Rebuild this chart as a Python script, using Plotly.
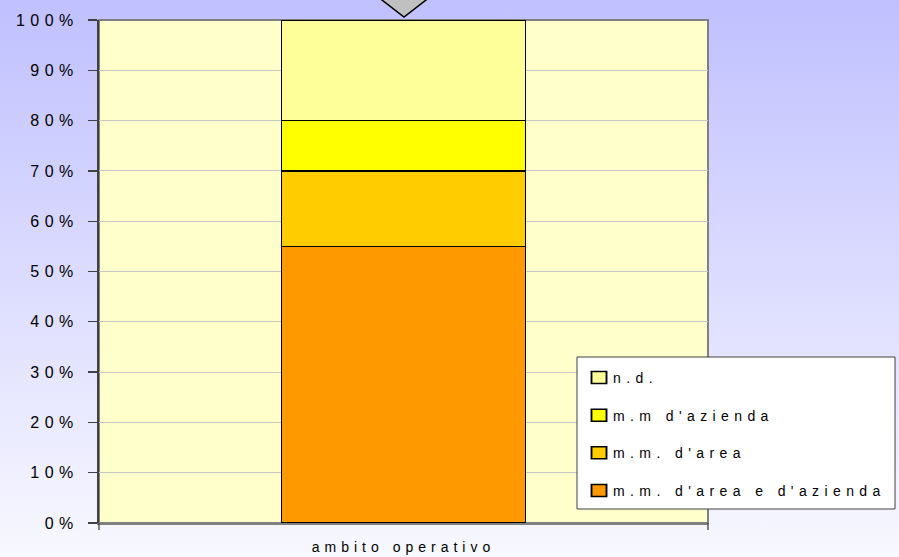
import base64
import plotly.graph_objects as go

# ---- data ----
categories = ["ambito operativo"]
series_names = ["m.m. d'area e d'azienda", "m.m. d'area", "m.m d'azienda", "n.d."]
val_area_azienda = [0.55]
val_area = [0.15]
val_azienda = [0.10]
val_nd = [0.20]
series_colors = ["#FF9900", "#FFCC00", "#FFFF00", "#FFFF99"]
y_tick_values = [0, 0.1, 0.2, 0.3, 0.4, 0.5, 0.6, 0.7, 0.8, 0.9, 1.0]

series_values = [val_area_azienda, val_area, val_azienda, val_nd]

W, H = 899, 557
L, R, T, B = 99, 191, 20, 34
PW, PH = W - L - R, H - T - B


def px_x(px):
    return (px - L) / PW


def px_y(py):
    return (H - B - py) / PH


FONT = "Liberation Sans, Arial, sans-serif"

fig = go.Figure()
n = len(series_names)
for i, (name, vals, col) in enumerate(zip(series_names, series_values, series_colors)):
    fig.add_trace(go.Bar(
        x=categories, y=vals, name=name, legendgroup=f"g{i}", legendrank=n - i,
        marker=dict(color=col, line=dict(color="#000000", width=1.5)),
        width=0.4,
    ))

# background gradient
svg = ('<svg xmlns="http://www.w3.org/2000/svg" width="10" height="100" preserveAspectRatio="none">'
       '<defs><linearGradient id="g" x1="0" y1="0" x2="0" y2="1">'
       '<stop offset="0" stop-color="#C0C0FF"/><stop offset="1" stop-color="#F8F8FF"/>'
       '</linearGradient></defs><rect width="10" height="100" fill="url(#g)"/></svg>')
src = "data:image/svg+xml;base64," + base64.b64encode(svg.encode()).decode()

shapes = [
    # plot area background & border
    dict(type="rect", xref="paper", yref="paper", x0=0, x1=1, y0=0, y1=1,
         fillcolor="#FFFFCC", line=dict(color="#808080", width=2), layer="below"),
    # x-axis edge ticks
    dict(type="line", xref="paper", yref="paper", x0=0, x1=0, y0=0, y1=-7 / PH,
         line=dict(color="#404040", width=1.3)),
    dict(type="line", xref="paper", yref="paper", x0=1, x1=1, y0=0, y1=-7 / PH,
         line=dict(color="#404040", width=1.3)),
    # legend box
    dict(type="rect", xref="paper", yref="paper",
         x0=px_x(577), x1=px_x(895), y0=px_y(509), y1=px_y(357),
         fillcolor="#FFFFFF", line=dict(color="#404040", width=1), layer="above"),
    # pointer triangle at the top
    dict(type="path", xref="paper", yref="paper",
         path=(f"M {px_x(369)} {px_y(-10)} L {px_x(404)} {px_y(17)} "
               f"L {px_x(439)} {px_y(-10)} Z"),
         fillcolor="#C0C0C0", line=dict(color="#000000", width=1.5), layer="above"),
]

fig.update_layout(
    width=W, height=H,
    margin=dict(l=L, r=R, t=T, b=B, pad=0, autoexpand=False),
    barmode="stack",
    paper_bgcolor="#FFFFFF",
    plot_bgcolor="rgba(0,0,0,0)",
    font=dict(family=FONT, size=13, color="#000000"),
    images=[dict(source=src, xref="paper", yref="paper", x=px_x(0), y=px_y(0),
                 sizex=W / PW, sizey=H / PH, sizing="stretch", layer="below",
                 xanchor="left", yanchor="top")],
    shapes=shapes,
    showlegend=True,
    legend=dict(x=px_x(573), y=px_y(362), xanchor="left", yanchor="top",
                bgcolor="rgba(0,0,0,0)", borderwidth=0,
                traceorder="grouped", tracegroupgap=16.4,
                font=dict(family=FONT, size=14, color="#000000")),
    xaxis=dict(showgrid=False, showline=True, linecolor="#808080", linewidth=1.5,
               ticks="", tickfont=dict(family=FONT, size=14), automargin=False,
               ticklabelstandoff=11, range=[-0.5, 0.5], fixedrange=True),
    yaxis=dict(range=[0, 1], tickvals=y_tick_values, tickformat=".0%",
               showgrid=True, gridcolor="#C8C8C8", gridwidth=1, automargin=False,
               showline=True, linecolor="#404040", linewidth=2,
               ticks="outside", ticklen=9, tickcolor="#404040", tickwidth=1.3,
               ticklabelstandoff=6,
               tickfont=dict(family=FONT, size=16), zeroline=False, fixedrange=True),
    bargap=0.6,
)

post = """
document.body.style.margin='0';
var gd = document.getElementById('{plot_id}');
gd.querySelectorAll('.ytick text').forEach(function(t){ t.style.letterSpacing='5.5px'; });
gd.querySelectorAll('.xtick text').forEach(function(t){ t.style.letterSpacing='5px'; });
gd.querySelectorAll('.legendtext').forEach(function(t){ t.style.letterSpacing='5.4px'; });
gd.querySelectorAll('.legendpoints').forEach(function(e){ e.setAttribute('transform','translate(1,0) scale(1.25,1)'); });
gd.querySelectorAll('.legend .scrollbox').forEach(function(e){ e.removeAttribute('clip-path'); });
gd.querySelectorAll('.legend').forEach(function(e){ e.removeAttribute('clip-path'); });
"""

fig.write_html("out.html", post_script=post, config={"displayModeBar": False, "staticPlot": True})
